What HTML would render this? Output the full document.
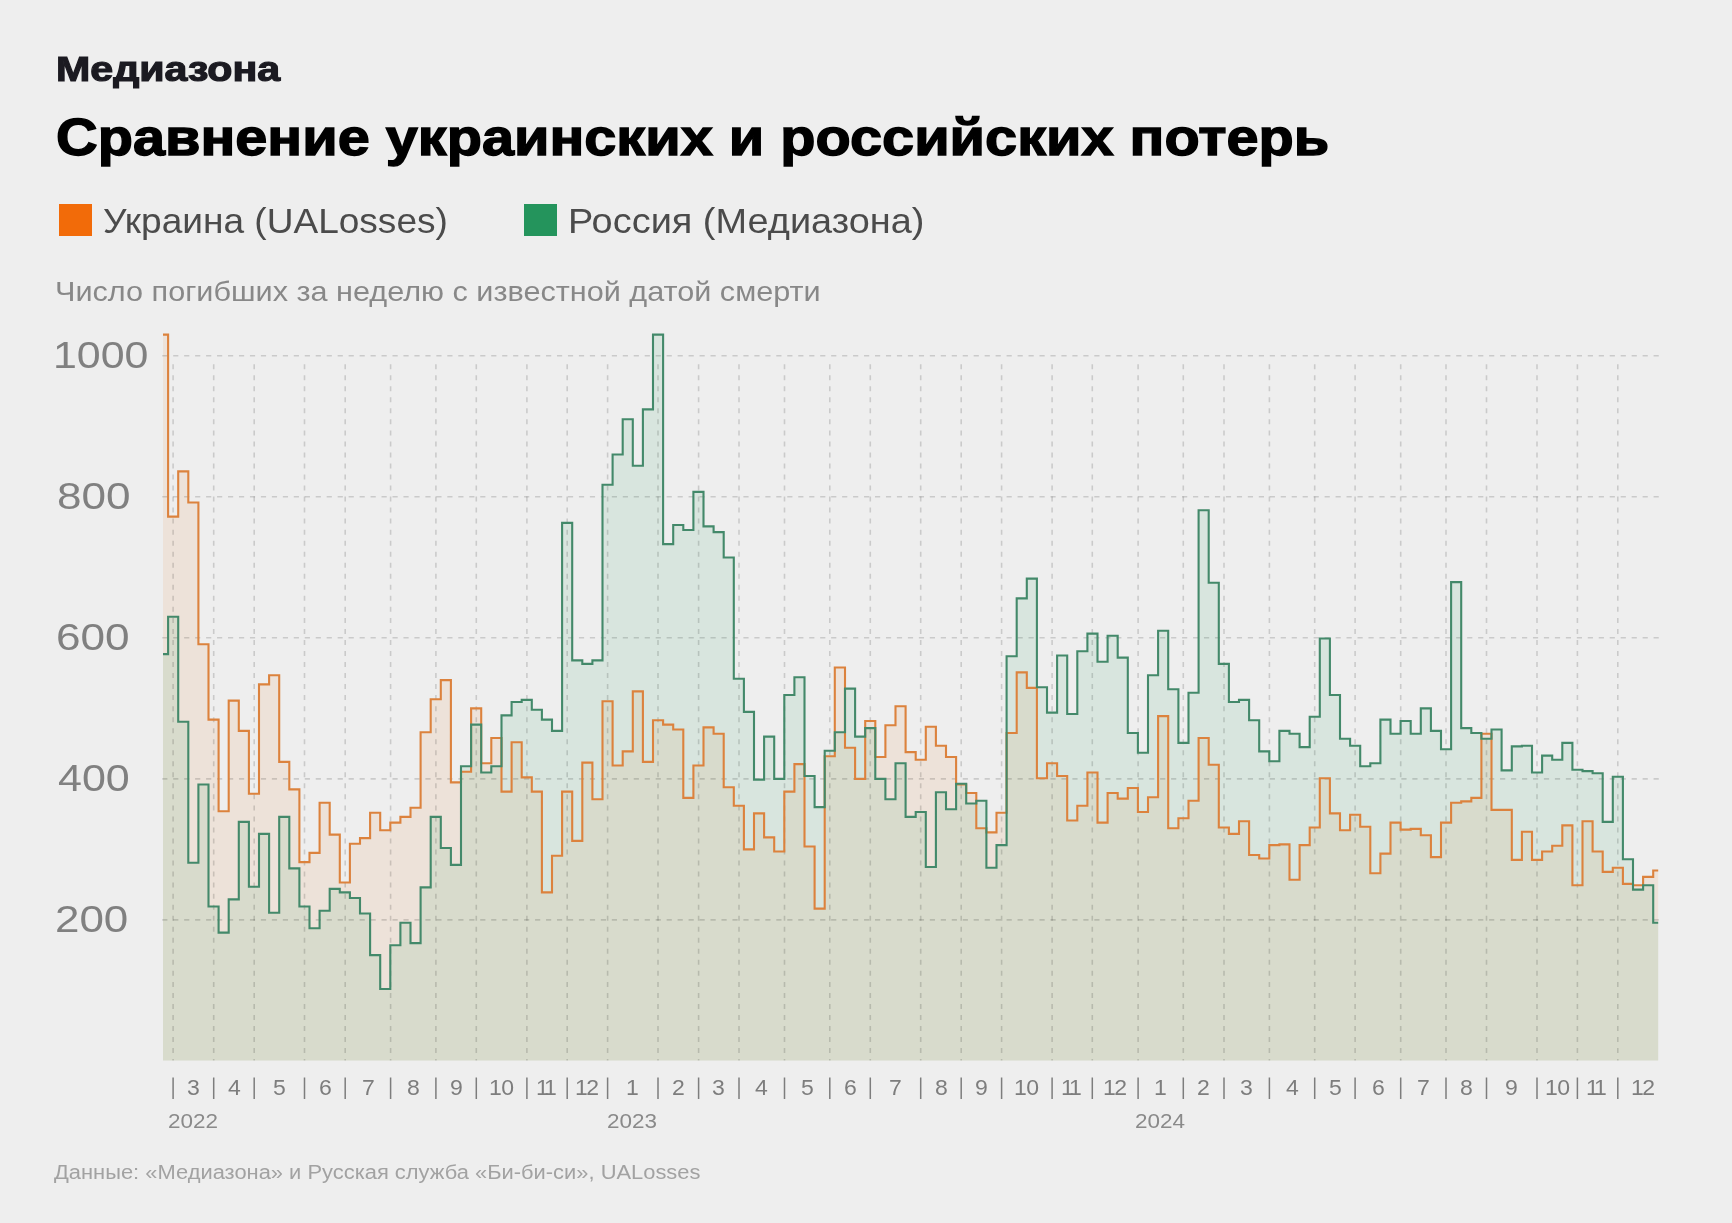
<!DOCTYPE html>
<html lang="ru"><head><meta charset="utf-8"><title>Сравнение украинских и российских потерь</title>
<style>
html,body{margin:0;padding:0;}
body{width:1732px;height:1223px;background:#eeeeee;position:relative;overflow:hidden;font-family:"Liberation Sans",sans-serif;}
.t{position:absolute;white-space:nowrap;line-height:1;margin:0;padding:0;transform-origin:left top;will-change:transform;}
.logo{font-weight:bold;color:#1b1a21;-webkit-text-stroke:1.2px #1b1a21;}
.title{font-weight:bold;color:#000;-webkit-text-stroke:1.4px #000;}
.leg{color:#4b4b4b;}
.sq{position:absolute;width:33px;height:32px;top:204px;}
.sub{color:#888;}
.yl{color:#808080;}
.ml{font-size:21.5px;color:#7d7d7d;top:1077.5px;}
.yr{color:#8a8a8a;}
.foot{color:#a2a2a2;}
</style></head><body>

<svg width="1732" height="1223" viewBox="0 0 1732 1223" style="position:absolute;left:0;top:0">
<path d="M163.0 334.6 L168.1 334.6 L168.1 516.6 L178.2 516.6 L178.2 471.4 L188.3 471.4 L188.3 502.5 L198.4 502.5 L198.4 644.2 L208.5 644.2 L208.5 719.6 L218.6 719.6 L218.6 811.3 L228.7 811.3 L228.7 700.6 L238.8 700.6 L238.8 730.9 L248.9 730.9 L248.9 793.7 L259.0 793.7 L259.0 684.4 L269.1 684.4 L269.1 675.2 L279.2 675.2 L279.2 761.9 L289.3 761.9 L289.3 789.4 L299.4 789.4 L299.4 862.1 L309.5 862.1 L309.5 852.9 L319.6 852.9 L319.6 802.8 L329.7 802.8 L329.7 834.6 L339.8 834.6 L339.8 882.5 L349.9 882.5 L349.9 843.7 L360.0 843.7 L360.0 838.1 L370.1 838.1 L370.1 812.7 L380.2 812.7 L380.2 830.3 L390.3 830.3 L390.3 822.6 L400.4 822.6 L400.4 816.9 L410.5 816.9 L410.5 807.8 L420.6 807.8 L420.6 732.3 L430.7 732.3 L430.7 699.2 L440.8 699.2 L440.8 680.1 L450.9 680.1 L450.9 782.4 L461.0 782.4 L461.0 771.8 L471.1 771.8 L471.1 708.4 L481.2 708.4 L481.2 763.3 L491.3 763.3 L491.3 738.0 L501.5 738.0 L501.5 791.6 L511.6 791.6 L511.6 742.2 L521.7 742.2 L521.7 777.4 L531.8 777.4 L531.8 791.6 L541.9 791.6 L541.9 892.4 L552.0 892.4 L552.0 855.7 L562.1 855.7 L562.1 791.6 L572.2 791.6 L572.2 840.9 L582.3 840.9 L582.3 762.6 L592.4 762.6 L592.4 799.3 L602.5 799.3 L602.5 701.3 L612.6 701.3 L612.6 765.5 L622.7 765.5 L622.7 751.4 L632.8 751.4 L632.8 691.4 L642.9 691.4 L642.9 761.9 L653.0 761.9 L653.0 720.3 L663.1 720.3 L663.1 724.6 L673.2 724.6 L673.2 729.5 L683.3 729.5 L683.3 797.9 L693.4 797.9 L693.4 765.5 L703.5 765.5 L703.5 727.4 L713.6 727.4 L713.6 733.7 L723.7 733.7 L723.7 787.3 L733.8 787.3 L733.8 805.7 L743.9 805.7 L743.9 849.4 L754.0 849.4 L754.0 813.4 L764.1 813.4 L764.1 837.4 L774.2 837.4 L774.2 851.5 L784.3 851.5 L784.3 791.6 L794.4 791.6 L794.4 764.1 L804.5 764.1 L804.5 846.5 L814.6 846.5 L814.6 908.6 L824.7 908.6 L824.7 756.3 L834.8 756.3 L834.8 667.5 L845.0 667.5 L845.0 747.8 L855.1 747.8 L855.1 778.9 L865.2 778.9 L865.2 721.0 L875.3 721.0 L875.3 757.0 L885.4 757.0 L885.4 725.3 L895.5 725.3 L895.5 706.2 L905.6 706.2 L905.6 752.1 L915.7 752.1 L915.7 759.8 L925.8 759.8 L925.8 726.7 L935.9 726.7 L935.9 745.7 L946.0 745.7 L946.0 757.0 L956.1 757.0 L956.1 784.5 L966.2 784.5 L966.2 793.0 L976.3 793.0 L976.3 828.2 L986.4 828.2 L986.4 832.4 L996.5 832.4 L996.5 812.7 L1006.6 812.7 L1006.6 733.0 L1016.7 733.0 L1016.7 672.4 L1026.8 672.4 L1026.8 687.9 L1036.9 687.9 L1036.9 778.2 L1047.0 778.2 L1047.0 763.3 L1057.1 763.3 L1057.1 776.0 L1067.2 776.0 L1067.2 820.5 L1077.3 820.5 L1077.3 805.7 L1087.4 805.7 L1087.4 772.5 L1097.5 772.5 L1097.5 822.6 L1107.6 822.6 L1107.6 793.0 L1117.7 793.0 L1117.7 798.6 L1127.8 798.6 L1127.8 788.0 L1137.9 788.0 L1137.9 812.0 L1148.0 812.0 L1148.0 797.2 L1158.1 797.2 L1158.1 716.1 L1168.2 716.1 L1168.2 828.2 L1178.4 828.2 L1178.4 818.3 L1188.5 818.3 L1188.5 800.7 L1198.6 800.7 L1198.6 738.0 L1208.7 738.0 L1208.7 764.8 L1218.8 764.8 L1218.8 827.5 L1228.9 827.5 L1228.9 833.9 L1239.0 833.9 L1239.0 821.2 L1249.1 821.2 L1249.1 855.0 L1259.2 855.0 L1259.2 858.5 L1269.3 858.5 L1269.3 845.1 L1279.4 845.1 L1279.4 844.4 L1289.5 844.4 L1289.5 879.7 L1299.6 879.7 L1299.6 845.1 L1309.7 845.1 L1309.7 827.5 L1319.8 827.5 L1319.8 778.2 L1329.9 778.2 L1329.9 813.4 L1340.0 813.4 L1340.0 830.3 L1350.1 830.3 L1350.1 814.8 L1360.2 814.8 L1360.2 826.8 L1370.3 826.8 L1370.3 873.3 L1380.4 873.3 L1380.4 853.6 L1390.5 853.6 L1390.5 822.6 L1400.6 822.6 L1400.6 829.6 L1410.7 829.6 L1410.7 828.9 L1420.8 828.9 L1420.8 835.3 L1430.9 835.3 L1430.9 857.1 L1441.0 857.1 L1441.0 822.6 L1451.1 822.6 L1451.1 802.8 L1461.2 802.8 L1461.2 801.4 L1471.3 801.4 L1471.3 797.9 L1481.4 797.9 L1481.4 733.7 L1491.5 733.7 L1491.5 809.9 L1501.6 809.9 L1501.6 809.9 L1511.8 809.9 L1511.8 859.9 L1521.9 859.9 L1521.9 831.7 L1532.0 831.7 L1532.0 859.9 L1542.1 859.9 L1542.1 851.5 L1552.2 851.5 L1552.2 845.8 L1562.3 845.8 L1562.3 825.4 L1572.4 825.4 L1572.4 885.3 L1582.5 885.3 L1582.5 821.2 L1592.6 821.2 L1592.6 851.5 L1602.7 851.5 L1602.7 871.9 L1612.8 871.9 L1612.8 867.7 L1622.9 867.7 L1622.9 883.9 L1633.0 883.9 L1633.0 885.3 L1643.1 885.3 L1643.1 876.9 L1653.2 876.9 L1653.2 870.5 L1658.2 870.5 L1658.2 1060.6 L163.0 1060.6 Z" fill="#e86c0a" fill-opacity="0.092" stroke="none"/>
<path d="M163.0 654.1 L168.1 654.1 L168.1 616.7 L178.2 616.7 L178.2 721.7 L188.3 721.7 L188.3 862.8 L198.4 862.8 L198.4 784.5 L208.5 784.5 L208.5 906.5 L218.6 906.5 L218.6 932.6 L228.7 932.6 L228.7 899.4 L238.8 899.4 L238.8 821.9 L248.9 821.9 L248.9 886.7 L259.0 886.7 L259.0 833.9 L269.1 833.9 L269.1 912.8 L279.2 912.8 L279.2 816.9 L289.3 816.9 L289.3 868.4 L299.4 868.4 L299.4 906.5 L309.5 906.5 L309.5 928.3 L319.6 928.3 L319.6 910.7 L329.7 910.7 L329.7 888.9 L339.8 888.9 L339.8 892.4 L349.9 892.4 L349.9 898.0 L360.0 898.0 L360.0 913.5 L370.1 913.5 L370.1 955.1 L380.2 955.1 L380.2 989.0 L390.3 989.0 L390.3 945.3 L400.4 945.3 L400.4 922.7 L410.5 922.7 L410.5 943.1 L420.6 943.1 L420.6 887.4 L430.7 887.4 L430.7 816.9 L440.8 816.9 L440.8 848.0 L450.9 848.0 L450.9 864.9 L461.0 864.9 L461.0 766.2 L471.1 766.2 L471.1 724.6 L481.2 724.6 L481.2 772.5 L491.3 772.5 L491.3 766.2 L501.5 766.2 L501.5 715.4 L511.6 715.4 L511.6 702.0 L521.7 702.0 L521.7 699.9 L531.8 699.9 L531.8 709.8 L541.9 709.8 L541.9 719.6 L552.0 719.6 L552.0 730.9 L562.1 730.9 L562.1 522.9 L572.2 522.9 L572.2 660.4 L582.3 660.4 L582.3 663.9 L592.4 663.9 L592.4 660.4 L602.5 660.4 L602.5 484.8 L612.6 484.8 L612.6 454.5 L622.7 454.5 L622.7 419.3 L632.8 419.3 L632.8 465.8 L642.9 465.8 L642.9 409.4 L653.0 409.4 L653.0 334.6 L663.1 334.6 L663.1 544.1 L673.2 544.1 L673.2 525.0 L683.3 525.0 L683.3 530.0 L693.4 530.0 L693.4 491.9 L703.5 491.9 L703.5 526.4 L713.6 526.4 L713.6 532.1 L723.7 532.1 L723.7 557.5 L733.8 557.5 L733.8 678.7 L743.9 678.7 L743.9 711.9 L754.0 711.9 L754.0 779.6 L764.1 779.6 L764.1 736.6 L774.2 736.6 L774.2 778.9 L784.3 778.9 L784.3 695.0 L794.4 695.0 L794.4 677.3 L804.5 677.3 L804.5 776.0 L814.6 776.0 L814.6 807.1 L824.7 807.1 L824.7 750.7 L834.8 750.7 L834.8 732.3 L845.0 732.3 L845.0 688.6 L855.1 688.6 L855.1 736.6 L865.2 736.6 L865.2 728.1 L875.3 728.1 L875.3 778.9 L885.4 778.9 L885.4 799.3 L895.5 799.3 L895.5 763.3 L905.6 763.3 L905.6 816.9 L915.7 816.9 L915.7 812.0 L925.8 812.0 L925.8 867.0 L935.9 867.0 L935.9 792.3 L946.0 792.3 L946.0 809.2 L956.1 809.2 L956.1 783.8 L966.2 783.8 L966.2 803.5 L976.3 803.5 L976.3 800.7 L986.4 800.7 L986.4 867.7 L996.5 867.7 L996.5 845.1 L1006.6 845.1 L1006.6 656.2 L1016.7 656.2 L1016.7 598.4 L1026.8 598.4 L1026.8 578.6 L1036.9 578.6 L1036.9 687.2 L1047.0 687.2 L1047.0 712.6 L1057.1 712.6 L1057.1 655.5 L1067.2 655.5 L1067.2 714.0 L1077.3 714.0 L1077.3 651.2 L1087.4 651.2 L1087.4 633.6 L1097.5 633.6 L1097.5 661.8 L1107.6 661.8 L1107.6 635.7 L1117.7 635.7 L1117.7 657.6 L1127.8 657.6 L1127.8 733.0 L1137.9 733.0 L1137.9 752.8 L1148.0 752.8 L1148.0 675.2 L1158.1 675.2 L1158.1 630.8 L1168.2 630.8 L1168.2 689.3 L1178.4 689.3 L1178.4 742.9 L1188.5 742.9 L1188.5 692.8 L1198.6 692.8 L1198.6 510.2 L1208.7 510.2 L1208.7 582.8 L1218.8 582.8 L1218.8 663.9 L1228.9 663.9 L1228.9 702.0 L1239.0 702.0 L1239.0 699.9 L1249.1 699.9 L1249.1 720.3 L1259.2 720.3 L1259.2 751.4 L1269.3 751.4 L1269.3 761.2 L1279.4 761.2 L1279.4 730.9 L1289.5 730.9 L1289.5 733.7 L1299.6 733.7 L1299.6 747.1 L1309.7 747.1 L1309.7 716.8 L1319.8 716.8 L1319.8 638.5 L1329.9 638.5 L1329.9 695.0 L1340.0 695.0 L1340.0 738.7 L1350.1 738.7 L1350.1 745.7 L1360.2 745.7 L1360.2 766.2 L1370.3 766.2 L1370.3 763.3 L1380.4 763.3 L1380.4 719.6 L1390.5 719.6 L1390.5 733.7 L1400.6 733.7 L1400.6 721.0 L1410.7 721.0 L1410.7 733.7 L1420.8 733.7 L1420.8 708.4 L1430.9 708.4 L1430.9 730.9 L1441.0 730.9 L1441.0 749.2 L1451.1 749.2 L1451.1 582.1 L1461.2 582.1 L1461.2 728.1 L1471.3 728.1 L1471.3 733.0 L1481.4 733.0 L1481.4 738.7 L1491.5 738.7 L1491.5 729.5 L1501.6 729.5 L1501.6 770.4 L1511.8 770.4 L1511.8 746.4 L1521.9 746.4 L1521.9 745.7 L1532.0 745.7 L1532.0 772.5 L1542.1 772.5 L1542.1 755.6 L1552.2 755.6 L1552.2 759.8 L1562.3 759.8 L1562.3 742.9 L1572.4 742.9 L1572.4 769.7 L1582.5 769.7 L1582.5 771.1 L1592.6 771.1 L1592.6 773.2 L1602.7 773.2 L1602.7 821.9 L1612.8 821.9 L1612.8 776.7 L1622.9 776.7 L1622.9 859.2 L1633.0 859.2 L1633.0 889.6 L1643.1 889.6 L1643.1 885.3 L1653.2 885.3 L1653.2 922.7 L1658.2 922.7 L1658.2 1060.6 L163.0 1060.6 Z" fill="#26a25f" fill-opacity="0.105" stroke="none"/>
<path d="M162.2 919.9 H1663 M162.2 778.9 H1663 M162.2 637.8 H1663 M162.2 496.8 H1663 M162.2 355.8 H1663" stroke="#000" stroke-opacity="0.15" stroke-width="1.6" stroke-dasharray="5.2 5.766" fill="none"/>
<path d="M173.1 364.2 V1060.6 M213.7 364.2 V1060.6 M254.2 364.2 V1060.6 M304.5 364.2 V1060.6 M345.2 364.2 V1060.6 M390.6 364.2 V1060.6 M435.9 364.2 V1060.6 M476.3 364.2 V1060.6 M526.9 364.2 V1060.6 M567.2 364.2 V1060.6 M607.6 364.2 V1060.6 M658.0 364.2 V1060.6 M698.6 364.2 V1060.6 M739.0 364.2 V1060.6 M784.5 364.2 V1060.6 M829.8 364.2 V1060.6 M870.3 364.2 V1060.6 M920.7 364.2 V1060.6 M961.2 364.2 V1060.6 M1001.6 364.2 V1060.6 M1052.1 364.2 V1060.6 M1092.3 364.2 V1060.6 M1138.1 364.2 V1060.6 M1183.3 364.2 V1060.6 M1224.0 364.2 V1060.6 M1269.4 364.2 V1060.6 M1314.7 364.2 V1060.6 M1355.1 364.2 V1060.6 M1400.7 364.2 V1060.6 M1446.0 364.2 V1060.6 M1486.5 364.2 V1060.6 M1537.0 364.2 V1060.6 M1577.4 364.2 V1060.6 M1617.8 364.2 V1060.6" stroke="#000" stroke-opacity="0.15" stroke-width="1.6" stroke-dasharray="5 6.03" fill="none"/>
<path d="M163.0 334.6 L168.1 334.6 L168.1 516.6 L178.2 516.6 L178.2 471.4 L188.3 471.4 L188.3 502.5 L198.4 502.5 L198.4 644.2 L208.5 644.2 L208.5 719.6 L218.6 719.6 L218.6 811.3 L228.7 811.3 L228.7 700.6 L238.8 700.6 L238.8 730.9 L248.9 730.9 L248.9 793.7 L259.0 793.7 L259.0 684.4 L269.1 684.4 L269.1 675.2 L279.2 675.2 L279.2 761.9 L289.3 761.9 L289.3 789.4 L299.4 789.4 L299.4 862.1 L309.5 862.1 L309.5 852.9 L319.6 852.9 L319.6 802.8 L329.7 802.8 L329.7 834.6 L339.8 834.6 L339.8 882.5 L349.9 882.5 L349.9 843.7 L360.0 843.7 L360.0 838.1 L370.1 838.1 L370.1 812.7 L380.2 812.7 L380.2 830.3 L390.3 830.3 L390.3 822.6 L400.4 822.6 L400.4 816.9 L410.5 816.9 L410.5 807.8 L420.6 807.8 L420.6 732.3 L430.7 732.3 L430.7 699.2 L440.8 699.2 L440.8 680.1 L450.9 680.1 L450.9 782.4 L461.0 782.4 L461.0 771.8 L471.1 771.8 L471.1 708.4 L481.2 708.4 L481.2 763.3 L491.3 763.3 L491.3 738.0 L501.5 738.0 L501.5 791.6 L511.6 791.6 L511.6 742.2 L521.7 742.2 L521.7 777.4 L531.8 777.4 L531.8 791.6 L541.9 791.6 L541.9 892.4 L552.0 892.4 L552.0 855.7 L562.1 855.7 L562.1 791.6 L572.2 791.6 L572.2 840.9 L582.3 840.9 L582.3 762.6 L592.4 762.6 L592.4 799.3 L602.5 799.3 L602.5 701.3 L612.6 701.3 L612.6 765.5 L622.7 765.5 L622.7 751.4 L632.8 751.4 L632.8 691.4 L642.9 691.4 L642.9 761.9 L653.0 761.9 L653.0 720.3 L663.1 720.3 L663.1 724.6 L673.2 724.6 L673.2 729.5 L683.3 729.5 L683.3 797.9 L693.4 797.9 L693.4 765.5 L703.5 765.5 L703.5 727.4 L713.6 727.4 L713.6 733.7 L723.7 733.7 L723.7 787.3 L733.8 787.3 L733.8 805.7 L743.9 805.7 L743.9 849.4 L754.0 849.4 L754.0 813.4 L764.1 813.4 L764.1 837.4 L774.2 837.4 L774.2 851.5 L784.3 851.5 L784.3 791.6 L794.4 791.6 L794.4 764.1 L804.5 764.1 L804.5 846.5 L814.6 846.5 L814.6 908.6 L824.7 908.6 L824.7 756.3 L834.8 756.3 L834.8 667.5 L845.0 667.5 L845.0 747.8 L855.1 747.8 L855.1 778.9 L865.2 778.9 L865.2 721.0 L875.3 721.0 L875.3 757.0 L885.4 757.0 L885.4 725.3 L895.5 725.3 L895.5 706.2 L905.6 706.2 L905.6 752.1 L915.7 752.1 L915.7 759.8 L925.8 759.8 L925.8 726.7 L935.9 726.7 L935.9 745.7 L946.0 745.7 L946.0 757.0 L956.1 757.0 L956.1 784.5 L966.2 784.5 L966.2 793.0 L976.3 793.0 L976.3 828.2 L986.4 828.2 L986.4 832.4 L996.5 832.4 L996.5 812.7 L1006.6 812.7 L1006.6 733.0 L1016.7 733.0 L1016.7 672.4 L1026.8 672.4 L1026.8 687.9 L1036.9 687.9 L1036.9 778.2 L1047.0 778.2 L1047.0 763.3 L1057.1 763.3 L1057.1 776.0 L1067.2 776.0 L1067.2 820.5 L1077.3 820.5 L1077.3 805.7 L1087.4 805.7 L1087.4 772.5 L1097.5 772.5 L1097.5 822.6 L1107.6 822.6 L1107.6 793.0 L1117.7 793.0 L1117.7 798.6 L1127.8 798.6 L1127.8 788.0 L1137.9 788.0 L1137.9 812.0 L1148.0 812.0 L1148.0 797.2 L1158.1 797.2 L1158.1 716.1 L1168.2 716.1 L1168.2 828.2 L1178.4 828.2 L1178.4 818.3 L1188.5 818.3 L1188.5 800.7 L1198.6 800.7 L1198.6 738.0 L1208.7 738.0 L1208.7 764.8 L1218.8 764.8 L1218.8 827.5 L1228.9 827.5 L1228.9 833.9 L1239.0 833.9 L1239.0 821.2 L1249.1 821.2 L1249.1 855.0 L1259.2 855.0 L1259.2 858.5 L1269.3 858.5 L1269.3 845.1 L1279.4 845.1 L1279.4 844.4 L1289.5 844.4 L1289.5 879.7 L1299.6 879.7 L1299.6 845.1 L1309.7 845.1 L1309.7 827.5 L1319.8 827.5 L1319.8 778.2 L1329.9 778.2 L1329.9 813.4 L1340.0 813.4 L1340.0 830.3 L1350.1 830.3 L1350.1 814.8 L1360.2 814.8 L1360.2 826.8 L1370.3 826.8 L1370.3 873.3 L1380.4 873.3 L1380.4 853.6 L1390.5 853.6 L1390.5 822.6 L1400.6 822.6 L1400.6 829.6 L1410.7 829.6 L1410.7 828.9 L1420.8 828.9 L1420.8 835.3 L1430.9 835.3 L1430.9 857.1 L1441.0 857.1 L1441.0 822.6 L1451.1 822.6 L1451.1 802.8 L1461.2 802.8 L1461.2 801.4 L1471.3 801.4 L1471.3 797.9 L1481.4 797.9 L1481.4 733.7 L1491.5 733.7 L1491.5 809.9 L1501.6 809.9 L1501.6 809.9 L1511.8 809.9 L1511.8 859.9 L1521.9 859.9 L1521.9 831.7 L1532.0 831.7 L1532.0 859.9 L1542.1 859.9 L1542.1 851.5 L1552.2 851.5 L1552.2 845.8 L1562.3 845.8 L1562.3 825.4 L1572.4 825.4 L1572.4 885.3 L1582.5 885.3 L1582.5 821.2 L1592.6 821.2 L1592.6 851.5 L1602.7 851.5 L1602.7 871.9 L1612.8 871.9 L1612.8 867.7 L1622.9 867.7 L1622.9 883.9 L1633.0 883.9 L1633.0 885.3 L1643.1 885.3 L1643.1 876.9 L1653.2 876.9 L1653.2 870.5 L1658.2 870.5" fill="none" stroke="#dc823d" stroke-width="2.1" stroke-linejoin="miter"/>
<path d="M163.0 654.1 L168.1 654.1 L168.1 616.7 L178.2 616.7 L178.2 721.7 L188.3 721.7 L188.3 862.8 L198.4 862.8 L198.4 784.5 L208.5 784.5 L208.5 906.5 L218.6 906.5 L218.6 932.6 L228.7 932.6 L228.7 899.4 L238.8 899.4 L238.8 821.9 L248.9 821.9 L248.9 886.7 L259.0 886.7 L259.0 833.9 L269.1 833.9 L269.1 912.8 L279.2 912.8 L279.2 816.9 L289.3 816.9 L289.3 868.4 L299.4 868.4 L299.4 906.5 L309.5 906.5 L309.5 928.3 L319.6 928.3 L319.6 910.7 L329.7 910.7 L329.7 888.9 L339.8 888.9 L339.8 892.4 L349.9 892.4 L349.9 898.0 L360.0 898.0 L360.0 913.5 L370.1 913.5 L370.1 955.1 L380.2 955.1 L380.2 989.0 L390.3 989.0 L390.3 945.3 L400.4 945.3 L400.4 922.7 L410.5 922.7 L410.5 943.1 L420.6 943.1 L420.6 887.4 L430.7 887.4 L430.7 816.9 L440.8 816.9 L440.8 848.0 L450.9 848.0 L450.9 864.9 L461.0 864.9 L461.0 766.2 L471.1 766.2 L471.1 724.6 L481.2 724.6 L481.2 772.5 L491.3 772.5 L491.3 766.2 L501.5 766.2 L501.5 715.4 L511.6 715.4 L511.6 702.0 L521.7 702.0 L521.7 699.9 L531.8 699.9 L531.8 709.8 L541.9 709.8 L541.9 719.6 L552.0 719.6 L552.0 730.9 L562.1 730.9 L562.1 522.9 L572.2 522.9 L572.2 660.4 L582.3 660.4 L582.3 663.9 L592.4 663.9 L592.4 660.4 L602.5 660.4 L602.5 484.8 L612.6 484.8 L612.6 454.5 L622.7 454.5 L622.7 419.3 L632.8 419.3 L632.8 465.8 L642.9 465.8 L642.9 409.4 L653.0 409.4 L653.0 334.6 L663.1 334.6 L663.1 544.1 L673.2 544.1 L673.2 525.0 L683.3 525.0 L683.3 530.0 L693.4 530.0 L693.4 491.9 L703.5 491.9 L703.5 526.4 L713.6 526.4 L713.6 532.1 L723.7 532.1 L723.7 557.5 L733.8 557.5 L733.8 678.7 L743.9 678.7 L743.9 711.9 L754.0 711.9 L754.0 779.6 L764.1 779.6 L764.1 736.6 L774.2 736.6 L774.2 778.9 L784.3 778.9 L784.3 695.0 L794.4 695.0 L794.4 677.3 L804.5 677.3 L804.5 776.0 L814.6 776.0 L814.6 807.1 L824.7 807.1 L824.7 750.7 L834.8 750.7 L834.8 732.3 L845.0 732.3 L845.0 688.6 L855.1 688.6 L855.1 736.6 L865.2 736.6 L865.2 728.1 L875.3 728.1 L875.3 778.9 L885.4 778.9 L885.4 799.3 L895.5 799.3 L895.5 763.3 L905.6 763.3 L905.6 816.9 L915.7 816.9 L915.7 812.0 L925.8 812.0 L925.8 867.0 L935.9 867.0 L935.9 792.3 L946.0 792.3 L946.0 809.2 L956.1 809.2 L956.1 783.8 L966.2 783.8 L966.2 803.5 L976.3 803.5 L976.3 800.7 L986.4 800.7 L986.4 867.7 L996.5 867.7 L996.5 845.1 L1006.6 845.1 L1006.6 656.2 L1016.7 656.2 L1016.7 598.4 L1026.8 598.4 L1026.8 578.6 L1036.9 578.6 L1036.9 687.2 L1047.0 687.2 L1047.0 712.6 L1057.1 712.6 L1057.1 655.5 L1067.2 655.5 L1067.2 714.0 L1077.3 714.0 L1077.3 651.2 L1087.4 651.2 L1087.4 633.6 L1097.5 633.6 L1097.5 661.8 L1107.6 661.8 L1107.6 635.7 L1117.7 635.7 L1117.7 657.6 L1127.8 657.6 L1127.8 733.0 L1137.9 733.0 L1137.9 752.8 L1148.0 752.8 L1148.0 675.2 L1158.1 675.2 L1158.1 630.8 L1168.2 630.8 L1168.2 689.3 L1178.4 689.3 L1178.4 742.9 L1188.5 742.9 L1188.5 692.8 L1198.6 692.8 L1198.6 510.2 L1208.7 510.2 L1208.7 582.8 L1218.8 582.8 L1218.8 663.9 L1228.9 663.9 L1228.9 702.0 L1239.0 702.0 L1239.0 699.9 L1249.1 699.9 L1249.1 720.3 L1259.2 720.3 L1259.2 751.4 L1269.3 751.4 L1269.3 761.2 L1279.4 761.2 L1279.4 730.9 L1289.5 730.9 L1289.5 733.7 L1299.6 733.7 L1299.6 747.1 L1309.7 747.1 L1309.7 716.8 L1319.8 716.8 L1319.8 638.5 L1329.9 638.5 L1329.9 695.0 L1340.0 695.0 L1340.0 738.7 L1350.1 738.7 L1350.1 745.7 L1360.2 745.7 L1360.2 766.2 L1370.3 766.2 L1370.3 763.3 L1380.4 763.3 L1380.4 719.6 L1390.5 719.6 L1390.5 733.7 L1400.6 733.7 L1400.6 721.0 L1410.7 721.0 L1410.7 733.7 L1420.8 733.7 L1420.8 708.4 L1430.9 708.4 L1430.9 730.9 L1441.0 730.9 L1441.0 749.2 L1451.1 749.2 L1451.1 582.1 L1461.2 582.1 L1461.2 728.1 L1471.3 728.1 L1471.3 733.0 L1481.4 733.0 L1481.4 738.7 L1491.5 738.7 L1491.5 729.5 L1501.6 729.5 L1501.6 770.4 L1511.8 770.4 L1511.8 746.4 L1521.9 746.4 L1521.9 745.7 L1532.0 745.7 L1532.0 772.5 L1542.1 772.5 L1542.1 755.6 L1552.2 755.6 L1552.2 759.8 L1562.3 759.8 L1562.3 742.9 L1572.4 742.9 L1572.4 769.7 L1582.5 769.7 L1582.5 771.1 L1592.6 771.1 L1592.6 773.2 L1602.7 773.2 L1602.7 821.9 L1612.8 821.9 L1612.8 776.7 L1622.9 776.7 L1622.9 859.2 L1633.0 859.2 L1633.0 889.6 L1643.1 889.6 L1643.1 885.3 L1653.2 885.3 L1653.2 922.7 L1658.2 922.7" fill="none" stroke="#43896a" stroke-width="2.1" stroke-linejoin="miter"/>
<path d="M173.1 1077.5 V1099 M213.7 1077.5 V1099 M254.2 1077.5 V1099 M304.5 1077.5 V1099 M345.2 1077.5 V1099 M390.6 1077.5 V1099 M435.9 1077.5 V1099 M476.3 1077.5 V1099 M526.9 1077.5 V1099 M567.2 1077.5 V1099 M607.6 1077.5 V1099 M658.0 1077.5 V1099 M698.6 1077.5 V1099 M739.0 1077.5 V1099 M784.5 1077.5 V1099 M829.8 1077.5 V1099 M870.3 1077.5 V1099 M920.7 1077.5 V1099 M961.2 1077.5 V1099 M1001.6 1077.5 V1099 M1052.1 1077.5 V1099 M1092.3 1077.5 V1099 M1138.1 1077.5 V1099 M1183.3 1077.5 V1099 M1224.0 1077.5 V1099 M1269.4 1077.5 V1099 M1314.7 1077.5 V1099 M1355.1 1077.5 V1099 M1400.7 1077.5 V1099 M1446.0 1077.5 V1099 M1486.5 1077.5 V1099 M1537.0 1077.5 V1099 M1577.4 1077.5 V1099 M1617.8 1077.5 V1099" stroke="#7d7d7d" stroke-width="1.5" fill="none"/>
</svg>
<div class="t logo" id="logo" style="left:56.00px;top:51.80px;font-size:35.80px;transform:scaleX(1.1490);">Медиазона</div>
<div class="t title" id="title" style="left:55.60px;top:110.70px;font-size:52.30px;transform:scaleX(1.1029);">Сравнение украинских и российских потерь</div>
<div class="sq" style="left:58.5px;background:#f26b09"></div>
<div class="t leg" id="leg1" style="left:103.20px;top:204.20px;font-size:34.50px;transform:scaleX(1.0738);">Украина (UALosses)</div>
<div class="sq" style="left:524px;background:#24945c"></div>
<div class="t leg" id="leg2" style="left:568.40px;top:204.20px;font-size:34.50px;transform:scaleX(1.0990);">Россия (Медиазона)</div>
<div class="t sub" id="sub" style="left:55.00px;top:277.60px;font-size:27.50px;transform:scaleX(1.1134);">Число погибших за неделю с известной датой смерти</div>
<div class="t yl" id="y1000" style="left:53.4px;top:336.5px;font-size:37.5px;transform:scaleX(1.1444)">1000</div>
<div class="t yl" id="y800" style="left:57.3px;top:477.5px;font-size:37.5px;transform:scaleX(1.1759)">800</div>
<div class="t yl" id="y600" style="left:56.4px;top:618.5px;font-size:37.5px;transform:scaleX(1.1771)">600</div>
<div class="t yl" id="y400" style="left:58.2px;top:759.6px;font-size:37.5px;transform:scaleX(1.1464)">400</div>
<div class="t yl" id="y200" style="left:55.0px;top:900.6px;font-size:37.5px;transform:scaleX(1.1714)">200</div>
<div class="t ml" style="left:187.0px;transform:scaleX(1.070)">3</div>
<div class="t ml" style="left:227.6px;transform:scaleX(1.070)">4</div>
<div class="t ml" style="left:273.0px;transform:scaleX(1.070)">5</div>
<div class="t ml" style="left:318.5px;transform:scaleX(1.070)">6</div>
<div class="t ml" style="left:361.5px;transform:scaleX(1.070)">7</div>
<div class="t ml" style="left:406.9px;transform:scaleX(1.070)">8</div>
<div class="t ml" style="left:449.7px;transform:scaleX(1.070)">9</div>
<div class="t ml" style="left:489.1px;transform:scaleX(1.070);letter-spacing:-0.5px">10</div>
<div class="t ml" style="left:535.9px;transform:scaleX(1.070);letter-spacing:-3.0px">11</div>
<div class="t ml" style="left:575.4px;transform:scaleX(1.070);letter-spacing:-1.5px">12</div>
<div class="t ml" style="left:626.4px;transform:scaleX(1.070)">1</div>
<div class="t ml" style="left:671.9px;transform:scaleX(1.070)">2</div>
<div class="t ml" style="left:712.4px;transform:scaleX(1.070)">3</div>
<div class="t ml" style="left:755.4px;transform:scaleX(1.070)">4</div>
<div class="t ml" style="left:800.8px;transform:scaleX(1.070)">5</div>
<div class="t ml" style="left:843.7px;transform:scaleX(1.070)">6</div>
<div class="t ml" style="left:889.1px;transform:scaleX(1.070)">7</div>
<div class="t ml" style="left:934.6px;transform:scaleX(1.070)">8</div>
<div class="t ml" style="left:975.0px;transform:scaleX(1.070)">9</div>
<div class="t ml" style="left:1014.3px;transform:scaleX(1.070);letter-spacing:-0.5px">10</div>
<div class="t ml" style="left:1061.0px;transform:scaleX(1.070);letter-spacing:-3.0px">11</div>
<div class="t ml" style="left:1103.2px;transform:scaleX(1.070);letter-spacing:-1.5px">12</div>
<div class="t ml" style="left:1154.3px;transform:scaleX(1.070)">1</div>
<div class="t ml" style="left:1197.3px;transform:scaleX(1.070)">2</div>
<div class="t ml" style="left:1240.3px;transform:scaleX(1.070)">3</div>
<div class="t ml" style="left:1285.7px;transform:scaleX(1.070)">4</div>
<div class="t ml" style="left:1328.5px;transform:scaleX(1.070)">5</div>
<div class="t ml" style="left:1371.5px;transform:scaleX(1.070)">6</div>
<div class="t ml" style="left:1417.0px;transform:scaleX(1.070)">7</div>
<div class="t ml" style="left:1459.9px;transform:scaleX(1.070)">8</div>
<div class="t ml" style="left:1505.4px;transform:scaleX(1.070)">9</div>
<div class="t ml" style="left:1544.7px;transform:scaleX(1.070);letter-spacing:-0.5px">10</div>
<div class="t ml" style="left:1586.4px;transform:scaleX(1.070);letter-spacing:-3.0px">11</div>
<div class="t ml" style="left:1631.1px;transform:scaleX(1.070);letter-spacing:-1.5px">12</div>
<div class="t yr" id="yr1" style="left:167.50px;top:1110.20px;font-size:21.00px;transform:scaleX(1.0700);">2022</div>
<div class="t yr" id="yr2" style="left:606.50px;top:1110.20px;font-size:21.00px;transform:scaleX(1.0700);">2023</div>
<div class="t yr" id="yr3" style="left:1135.00px;top:1110.20px;font-size:21.00px;transform:scaleX(1.0700);">2024</div>
<div class="t foot" id="foot" style="left:54.00px;top:1162.00px;font-size:20.00px;transform:scaleX(1.0950);">Данные: «Медиазона» и Русская служба «Би-би-си», UALosses</div>
</body></html>
